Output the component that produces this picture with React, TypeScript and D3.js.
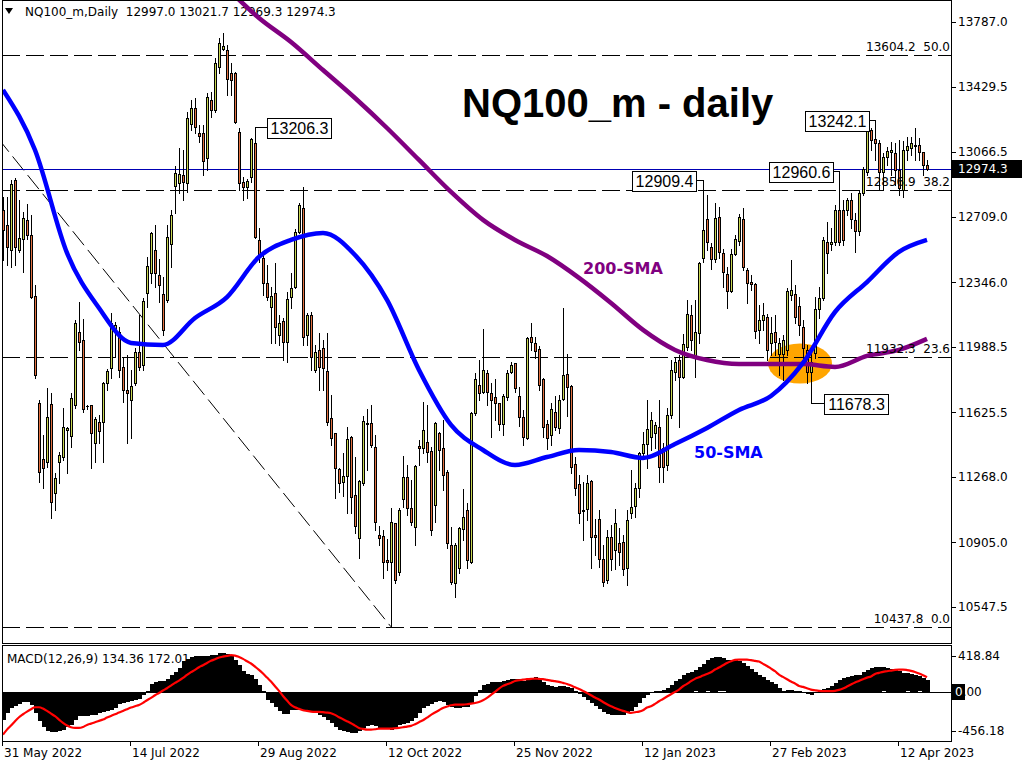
import React from "react";
import * as d3 from "d3";

// NQ100_m daily candles, 31 May 2022 .. 21 Apr 2023
const dateLabels = ["31 May 2022", "14 Jul 2022", "29 Aug 2022", "12 Oct 2022", "25 Nov 2022", "12 Jan 2023", "27 Feb 2023", "12 Apr 2023"];
const dateBars = [0, 32, 64, 96, 128, 160, 192, 224];

const opens = [
  12746, 12663, 12525, 12912, 12525, 12586, 12691, 12608, 12270, 11677,
  11367, 11351, 11672, 11179, 11351, 11378, 11528, 11495, 11666, 12071,
  12026, 11663, 11666, 11456, 11572, 11572, 11788, 11871, 12082, 12071,
  11877, 11749, 11694, 11788, 11960, 11888, 12287, 12397, 12525, 12386,
  12281, 12248, 12558, 12879, 12896, 12940, 12896, 13222, 13311, 13172,
  13172, 13034, 13355, 13300, 13538, 13638, 13632, 13505, 13505, 13178,
  12901, 12874, 12929, 13117, 12580, 12480, 12342, 12209, 12287, 12054,
  12131, 12015, 12264, 12320, 12624, 12757, 12054, 12165, 11860, 11971,
  11982, 11855, 11594, 11511, 11312, 11240, 11273, 11489, 11168, 10930,
  11234, 11561, 11567, 11434, 10946, 10941, 10808, 10797, 11013, 10742,
  11146, 11268, 11096, 10991, 11439, 11428, 11461, 11412, 11113, 11511,
  11428, 11295, 10891, 10681, 10764, 10980, 11085, 10797, 11622, 11777,
  11738, 11843, 11733, 11711, 11677, 11561, 11711, 11849, 11899, 11716,
  11600, 11484, 12043, 12010, 11976, 11810, 11561, 11500, 11627, 11539,
  11700, 11838, 11771, 11340, 11229, 11085, 11090, 11246, 10946, 11035,
  10813, 10697, 10935, 10863, 10902, 10908, 10764, 11068, 11107, 11207,
  11400, 11450, 11489, 11511, 11544, 11428, 11334, 11611, 11849, 11915,
  11821, 11987, 12165, 11932, 12065, 12480, 12696, 12541, 12475, 12707,
  12508, 12392, 12297, 12502, 12574, 12696, 12414, 12347, 12336, 12082,
  12137, 12154, 12010, 12071, 11949, 11949, 11971, 12275, 12281, 12214,
  12098, 11971, 11849, 11954, 12198, 12259, 12569, 12558, 12569, 12746,
  12746, 12746, 12801, 12691, 12630, 12840, 12957, 13189, 13139, 13117,
  12957, 13040, 13067, 13062, 12968, 12857, 13078, 13089, 13100, 13106,
  13067, 12997.0,
];
const highs = [
  12818, 12818, 12912, 12923, 12801, 12735, 12779, 12718, 12331, 11694,
  11500, 11760, 11733, 11290, 11406, 11650, 11544, 11733, 12137, 12237,
  12143, 11666, 11666, 11600, 11611, 11794, 11866, 12176, 12126, 12098,
  11932, 11943, 11860, 11982, 12165, 12259, 12486, 12624, 12663, 12475,
  12375, 12663, 12746, 12990, 13089, 13078, 13289, 13355, 13366, 13217,
  13217, 13394, 13399, 13588, 13699, 13726, 13660, 13560, 13510, 13200,
  12929, 12918, 13145, 13206.3, 12646, 12497, 12442, 12320, 12453, 12165,
  12148, 12292, 12397, 12641, 12785, 12874, 12176, 12181, 11999, 12065,
  12026, 12065, 11722, 11511, 11317, 11400, 11544, 11495, 11378, 11251,
  11605, 11644, 11666, 11500, 10996, 10975, 10924, 11096, 11013, 11096,
  11384, 11334, 11251, 11334, 11472, 11683, 11666, 11434, 11572, 11517,
  11583, 11306, 10991, 10902, 10991, 11201, 11124, 11627, 11843, 11915,
  12087, 11860, 11788, 11810, 11677, 11727, 11860, 11904, 11899, 11766,
  11639, 12043, 12120, 12043, 11993, 11816, 11583, 11677, 11716, 11722,
  12203, 11949, 11777, 11378, 11279, 11240, 11279, 11251, 11035, 11085,
  10891, 10975, 11002, 11090, 10985, 10946, 11085, 11306, 11234, 11406,
  11517, 11694, 11627, 11572, 11694, 11456, 11650, 11915, 11927, 11943,
  12059, 12248, 12220, 12248, 12458, 12909.4, 12829, 12563, 12785, 12763,
  12530, 12430, 12530, 12608, 12724, 12757, 12425, 12386, 12342, 12220,
  12231, 12170, 12154, 12165, 12037, 12054, 12314, 12469, 12331, 12264,
  12137, 11999, 11971, 12264, 12320, 12597, 12680, 12646, 12774, 12960.6,
  12801, 12813, 12840, 12729, 12857, 12984, 13200, 13200, 13242.1, 13134,
  13062, 13095, 13123, 13117, 13134, 13128, 13150, 13150, 13200, 13145,
  13067, 13021.7,
];
const lows = [
  12469, 12442, 12430, 12442, 12514, 12403, 12586, 12259, 11816, 11240,
  11207, 11323, 11041, 11085, 11234, 11362, 11290, 11434, 11650, 11971,
  11627, 11644, 11317, 11351, 11456, 11351, 11749, 11816, 11932, 11821,
  11683, 11456, 11484, 11777, 11860, 11860, 12209, 12342, 12320, 12237,
  12054, 12237, 12430, 12729, 12840, 12801, 12846, 13189, 13172, 13123,
  12940, 12968, 13261, 13289, 13505, 13632, 13383, 13383, 13228, 12857,
  12801, 12813, 12901, 12591, 12458, 12275, 12248, 12010, 12010, 11999,
  11915, 11904, 12203, 12314, 12619, 11999, 11999, 11860, 11849, 11749,
  11749, 11556, 11445, 11151, 11185, 11162, 11068, 11068, 10958, 10819,
  11223, 11306, 11434, 10975, 10891, 10708, 10752, 10437.8, 10681, 10725,
  11101, 11057, 11002, 10891, 11334, 11400, 11351, 10946, 11018, 11306,
  11196, 10874, 10675, 10603, 10736, 10919, 10764, 10791, 11611, 11694,
  11733, 11666, 11489, 11583, 11528, 11500, 11694, 11843, 11738, 11550,
  11445, 11478, 11971, 11927, 11749, 11489, 11423, 11445, 11528, 11511,
  11694, 11605, 11290, 11168, 11013, 10919, 11029, 10764, 10835, 10769,
  10664, 10681, 10752, 10758, 10780, 10725, 10670, 11041, 11046, 11157,
  11389, 11317, 11417, 11428, 11240, 11240, 11306, 11594, 11805, 11544,
  11816, 11971, 11971, 11821, 12010, 12458, 12525, 12419, 12458, 12480,
  12320, 12203, 12292, 12497, 12552, 12414, 12231, 12303, 12037, 12010,
  12082, 11915, 11943, 11943, 11832, 11805, 11943, 12248, 12120, 12054,
  11915, 11788, 11678.3, 11927, 12148, 12248, 12397, 12525, 12552, 12552,
  12552, 12718, 12646, 12514, 12608, 12829, 12940, 13078, 13023, 12857,
  12857, 12995, 12940, 12885, 12829, 12818, 13023, 13051, 13023, 13023,
  12940, 12969.3,
];
const closes = [
  12635, 12541, 12890, 12541, 12591, 12702, 12608, 12264, 11832, 11295,
  11317, 11600, 11129, 11262, 11389, 11544, 11539, 11705, 12120, 12015,
  11644, 11660, 11511, 11589, 11522, 11788, 11855, 12120, 12109, 11860,
  11749, 11733, 11771, 11960, 11877, 12242, 12436, 12619, 12397, 12331,
  12082, 12597, 12718, 12951, 12945, 12901, 13256, 13311, 13206, 13156,
  13017, 13372, 13300, 13560, 13671, 13654, 13472, 13466, 13233, 12896,
  12874, 12907, 13139, 12597, 12497, 12342, 12264, 12270, 12098, 12120,
  12015, 12253, 12314, 12624, 12774, 12043, 12165, 11932, 11960, 11877,
  11871, 11572, 11484, 11317, 11234, 11273, 11478, 11157, 10996, 11246,
  11578, 11567, 11445, 11018, 10930, 10797, 10797, 11018, 10697, 11085,
  11268, 11096, 11018, 11329, 11428, 11528, 11406, 10975, 11567, 11417,
  11279, 10902, 10686, 10891, 10985, 11046, 10808, 11622, 11810, 11733,
  11860, 11738, 11694, 11677, 11561, 11716, 11843, 11888, 11760, 11600,
  11489, 12037, 12015, 11965, 11777, 11544, 11484, 11644, 11544, 11694,
  11832, 11766, 11323, 11207, 11068, 11079, 11234, 10935, 10935, 10813,
  10686, 10935, 10813, 11013, 10852, 10758, 11029, 11101, 11207, 11400,
  11450, 11533, 11583, 11556, 11323, 11323, 11611, 11860, 11904, 11821,
  12004, 12170, 12026, 12071, 12453, 12635, 12569, 12475, 12702, 12514,
  12403, 12297, 12502, 12586, 12707, 12430, 12342, 12336, 12076, 12137,
  12165, 11971, 12065, 12015, 12010, 12026, 12297, 12303, 12154, 12109,
  11982, 11849, 11904, 12198, 12259, 12580, 12508, 12569, 12746, 12569,
  12580, 12801, 12696, 12630, 12840, 12973, 13189, 13134, 13117, 12957,
  13040, 13073, 13078, 12968, 12868, 13078, 13100, 13117, 13106, 13067,
  12995, 12974.3,
];

// MACD(12,26,9): main (histogram) and signal
const macdMain = [
  -323, -245, -187, -167, -140, -121, -121, -148, -245, -342,
  -412, -451, -467, -467, -459, -440, -412, -381, -323, -284,
  -284, -280, -272, -265, -249, -237, -226, -206, -187, -140,
  -128, -117, -109, -93, -78, -39, 8, 93, 117, 132,
  124, 156, 195, 233, 280, 358, 389, 405, 416, 416,
  416, 420, 428, 436, 455, 455, 443, 416, 377, 311,
  249, 210, 195, 156, 86, 8, -89, -128, -179, -226,
  -253, -257, -210, -206, -214, -226, -226, -233, -249, -265,
  -296, -323, -362, -412, -440, -451, -467, -478, -482, -459,
  -420, -401, -381, -401, -420, -428, -428, -440, -428, -389,
  -373, -362, -342, -303, -245, -187, -167, -140, -117, -109,
  -117, -148, -179, -187, -187, -179, -179, -140, -51, 27,
  78, 94, 113, 117, 121, 125, 140, 156, 156, 152,
  133, 148, 164, 172, 156, 117, 86, 66, 55, 66,
  70, 62, 47, 8, -23, -62, -90, -129, -168, -199,
  -234, -257, -269, -273, -273, -269, -246, -218, -179, -129,
  -70, -31, 0, 16, 16, 27, 47, 86, 125, 156,
  195, 218, 234, 250, 289, 328, 367, 398, 406, 402,
  390, 378, 378, 371, 359, 335, 300, 265, 230, 203,
  172, 140, 117, 94, 47, 16, 23, 27, 16, 8,
  -4, -20, -31, 0, 16, 31, 47, 74, 105, 144,
  164, 179, 191, 199, 203, 230, 261, 281, 289, 289,
  285, 277, 273, 265, 240, 225, 215, 205, 195, 180,
  160, 134.36,
];
const macdSignal = [
  -498, -440, -393, -342, -296, -261, -230, -202, -179, -179,
  -194, -222, -253, -284, -323, -362, -393, -412, -420, -420,
  -409, -385, -370, -354, -338, -323, -300, -280, -261, -241,
  -222, -202, -183, -167, -152, -128, -97, -70, -39, -12,
  16, 43, 74, 105, 132, 163, 198, 230, 257, 288,
  311, 338, 362, 381, 401, 412, 420, 428, 424, 408,
  385, 358, 331, 296, 257, 214, 167, 121, 66, 12,
  -47, -101, -152, -179, -198, -214, -222, -230, -233, -233,
  -237, -241, -249, -268, -296, -319, -342, -366, -393, -420,
  -432, -440, -440, -436, -428, -428, -428, -428, -424, -420,
  -412, -405, -397, -377, -354, -331, -300, -268, -241, -214,
  -187, -171, -156, -148, -148, -148, -144, -136, -129, -117,
  -97, -70, -35, 0, 39, 70, 89, 105, 128, 136,
  144, 148, 152, 156, 152, 148, 140, 132, 125, 117,
  105, 93, 74, 54, 35, 12, -12, -39, -66, -89,
  -117, -144, -167, -187, -206, -222, -234, -245, -237, -230,
  -214, -183, -167, -140, -109, -82, -54, -27, 0, 27,
  66, 93, 125, 152, 171, 191, 210, 230, 261, 284,
  311, 338, 358, 373, 377, 377, 377, 370, 362, 354,
  327, 303, 272, 241, 202, 175, 148, 121, 97, 70,
  58, 43, 27, 19, 12, 8, 8, 8, 12, 23,
  39, 62, 86, 109, 128, 148, 167, 179, 210, 222,
  234, 241, 249, 257, 261, 261, 255, 245, 232, 215,
  195, 172.01,
];

// moving averages read every 8th bar (last point on the final bar)
const sma50 = [
  13411, 13078, 12508, 12203, 12010, 11999, 12148, 12264, 12486, 12580,
  12619, 12497, 12248, 11860, 11556, 11417, 11334, 11378, 11417, 11406,
  11373, 11450, 11539, 11639, 11716, 11899, 12181, 12347, 12514, 12580,
];
const sma200 = [
  13975, 13809, 13676, 13521, 13366, 13200, 13023, 12846, 12691, 12580,
  12491, 12370, 12231, 12082, 11971, 11915, 11893, 11893, 11893, 11877,
  11938, 11971, 12032,
];

const priceTicks = [13787.0, 13429.5, 13066.5, 12709.0, 12346.0, 11988.5, 11625.5, 11268.0, 10905.0, 10547.5];
const fibLevels = [13604.2, 12856.9, 11932.3, 10437.8];
const fibNames = ["50.0", "38.2", "23.6", "0.0"];
const fibTop = 16770.6;
const fibTopBar = -133;
const fibLowBar = 97;
const lastPrice = 12974.3;
const macdTicks = [418.84, 0, -456.18];

const bull = "#C9D651";
const bear = "#E2703F";
const mono = "DejaVu Sans, Tahoma, sans-serif";

export default function App() {
  const plotL = 2;
  const plotR = 951;
  const mainB = 643;
  const macdT = 645;
  const macdB = 741;

  const bars = d3.range(closes.length);
  const x = d3.scaleLinear().domain([0, 231]).range([3, 927]);
  const y = d3.scaleLinear().domain([10547.5, 13787]).range([607, 22]);
  const ym = d3.scaleLinear().domain([-456.18, 418.84]).range([731, 656]);
  const px = (i: number) => Math.round(x(i));
  const py = (v: number) => Math.round(y(v));

  const sma50Bars = d3.range(0, 232, 8).concat([231]);
  const sma200Bars = d3.range(56, 232, 8).concat([231]);

  const smaLine = d3
    .line<[number, number]>()
    .x((d) => x(d[0]))
    .y((d) => y(d[1]))
    .curve(d3.curveMonotoneX);
  const sigLine = d3
    .line<number>()
    .x((d, i) => x(i))
    .y((d) => ym(d))
    .curve(d3.curveMonotoneX);

  const zeroY = Math.round(ym(0)) + 0.5;

  // boxed price callouts: bar, value, box side
  const callouts = [
    { bar: 63, v: highs[63], side: "right", gap: 11 },
    { bar: 175, v: highs[175], side: "left", gap: 8 },
    { bar: 209, v: highs[209], side: "left", gap: 7 },
    { bar: 218, v: highs[218], side: "left", gap: 7 },
    { bar: 202, v: lows[202], side: "right", gap: 12 },
  ];

  return (
    <div style={{ position: "absolute", left: 0, top: 0, background: "#fff" }}>
      <svg width={1024} height={768} style={{ display: "block", background: "#fff" }}>
        <defs>
          <clipPath id="mainClip">
            <rect x={plotL} y={1} width={plotR - plotL} height={mainB - 1} />
          </clipPath>
          <clipPath id="macdClip">
            <rect x={plotL} y={macdT + 1} width={plotR - plotL} height={macdB - macdT - 1} />
          </clipPath>
        </defs>

        <g clipPath="url(#mainClip)">
          {/* highlight of the crossover */}
          <ellipse cx={800} cy={363.5} rx={32} ry={20} fill="#FFA500" />

          {/* fibonacci levels */}
          {fibLevels.map((f) => (
            <line key={f} x1={plotL} x2={plotR} y1={py(f) + 0.5} y2={py(f) + 0.5}
              stroke="#000" strokeDasharray="18,6" shapeRendering="crispEdges" />
          ))}
          <line x1={x(fibTopBar)} y1={y(fibTop)} x2={x(fibLowBar)} y2={y(fibLevels[3])}
            stroke="#000" strokeWidth={1} strokeDasharray="18,6" />

          {/* last price */}
          <line x1={plotL} x2={plotR} y1={py(lastPrice) + 0.5} y2={py(lastPrice) + 0.5}
            stroke="#0000B4" shapeRendering="crispEdges" />

          {/* header */}
          <path d="M5,8 L13,8 L9,14 Z" fill="#000" />
          <text x={25} y={16} fontFamily={mono} fontSize={12} fill="#000" style={{ whiteSpace: "pre" }}>
            {`NQ100_m,Daily  ${opens[231].toFixed(1)} ${highs[231].toFixed(1)} ${lows[231].toFixed(1)} ${closes[231].toFixed(1)}`}
          </text>

          {/* candles */}
          <g shapeRendering="crispEdges">
            {bars.map((i) => {
              const cx = px(i);
              const o = py(opens[i]);
              const c = py(closes[i]);
              const top = Math.min(o, c);
              const bot = Math.max(o, c);
              const up = closes[i] >= opens[i];
              return (
                <g key={i}>
                  <line x1={cx + 0.5} x2={cx + 0.5} y1={py(highs[i])} y2={py(lows[i]) + 1} stroke="#000" />
                  {bot - top >= 1 ? (
                    <rect x={cx - 0.5} y={top + 0.5} width={2} height={bot - top}
                      fill={up ? bull : bear} stroke="#000" />
                  ) : (
                    <line x1={cx - 1} x2={cx + 2} y1={top + 0.5} y2={top + 0.5} stroke="#000" />
                  )}
                </g>
              );
            })}
          </g>

          {/* moving averages */}
          <path d={smaLine(sma200Bars.map((b, k) => [b, sma200[k]]) as [number, number][]) || ""}
            fill="none" stroke="#800080" strokeWidth={4.5} />
          <path d={smaLine(sma50Bars.map((b, k) => [b, sma50[k]]) as [number, number][]) || ""}
            fill="none" stroke="#0000FF" strokeWidth={4.5} />

          {/* fib labels */}
          {fibLevels.map((f, k) => (
            <text key={f} x={950} y={py(f) - 4} textAnchor="end" fontFamily={mono} fontSize={12}
              fill="#000" style={{ whiteSpace: "pre" }}>
              {`${f.toFixed(1)}  ${fibNames[k]}`}
            </text>
          ))}

          {/* callouts */}
          {callouts.map((c) => {
            const cx = px(c.bar) + 0.5;
            const cy = py(c.v) + 0.5;
            const w = 64;
            const h = 20;
            const bx = c.side === "right" ? cx + c.gap : cx - c.gap - w;
            return (
              <g key={c.bar}>
                <line x1={cx} x2={c.side === "right" ? bx : bx + w} y1={cy} y2={cy} stroke="#000" shapeRendering="crispEdges" />
                <rect x={Math.round(bx) + 0.5} y={Math.round(cy - h / 2)} width={w} height={h}
                  fill="#fff" stroke="#000" shapeRendering="crispEdges" />
                <text x={Math.round(bx) + w / 2 + 0.5} y={cy + 6} textAnchor="middle"
                  fontFamily="Liberation Sans, Arial, sans-serif" fontSize={16} fill="#000">
                  {c.v.toFixed(1)}
                </text>
              </g>
            );
          })}

          {/* titles */}
          <text x={462} y={117} fontFamily="Liberation Sans, Arial, sans-serif" fontWeight="bold"
            fontSize={40} fill="#000">NQ100_m - daily</text>
          <text x={583} y={274} fontFamily="DejaVu Sans, Verdana, sans-serif" fontWeight="bold"
            fontSize={16} fill="#800080">200-SMA</text>
          <text x={694} y={458} fontFamily="DejaVu Sans, Verdana, sans-serif" fontWeight="bold"
            fontSize={16} fill="#0000FF">50-SMA</text>
        </g>

        {/* MACD panel */}
        <text x={7} y={663} fontFamily={mono} fontSize={12} fill="#000">
          {`MACD(12,26,9) ${macdMain[231].toFixed(2)} ${macdSignal[231].toFixed(2)}`}
        </text>
        <g clipPath="url(#macdClip)">
          <g shapeRendering="crispEdges">
            {bars.map((i) => {
              const y0 = ym(0);
              const y1 = ym(macdMain[i]);
              return (
                <rect key={i} x={px(i) - 1.5} width={4} y={Math.round(Math.min(y0, y1))}
                  height={Math.max(1, Math.round(Math.abs(y1 - y0)))} fill="#000" />
              );
            })}
          </g>
          <line x1={plotL} x2={plotR} y1={zeroY} y2={zeroY} stroke="#000" shapeRendering="crispEdges" />
          <path d={sigLine(macdSignal) || ""} fill="none" stroke="#FF0000" strokeWidth={2.2} />
        </g>

        {/* frames */}
        <g fill="none" stroke="#000" shapeRendering="crispEdges">
          <rect x={plotL + 0.5} y={0.5} width={plotR - plotL} height={mainB} />
          <rect x={plotL + 0.5} y={macdT + 0.5} width={plotR - plotL} height={macdB - macdT} />
        </g>

        {/* price axis */}
        {priceTicks.map((t) => (
          <g key={t}>
            <line x1={plotR + 1} x2={plotR + 5} y1={py(t) + 0.5} y2={py(t) + 0.5} stroke="#000" shapeRendering="crispEdges" />
            <text x={958} y={y(t)} dy="0.36em" fontFamily={mono} fontSize={12} fill="#000">{t.toFixed(1)}</text>
          </g>
        ))}
        <rect x={952} y={Math.round(y(lastPrice)) - 9} width={70} height={18} fill="#000" />
        <text x={958} y={y(lastPrice)} dy="0.36em" fontFamily={mono} fontSize={12} fill="#fff">
          {lastPrice.toFixed(1)}
        </text>

        {/* MACD axis */}
        {macdTicks.map((t) => (
          <g key={t}>
            <line x1={plotR + 1} x2={plotR + 5} y1={Math.round(ym(t)) + 0.5} y2={Math.round(ym(t)) + 0.5}
              stroke="#000" shapeRendering="crispEdges" />
            {t === 0 ? (
              <g>
                <rect x={952} y={Math.round(ym(0)) - 8} width={13} height={16} fill="#000" />
                <text x={955} y={ym(0)} dy="0.36em" fontFamily={mono} fontSize={12}>
                  <tspan fill="#fff">0</tspan>
                  <tspan fill="#000">.00</tspan>
                </text>
              </g>
            ) : (
              <text x={958} y={ym(t)} dy="0.36em" fontFamily={mono} fontSize={12} fill="#000">{t.toFixed(2)}</text>
            )}
          </g>
        ))}

        {/* date axis */}
        {dateBars.map((b, k) => (
          <g key={b}>
            <line x1={px(b) - 0.5} x2={px(b) - 0.5} y1={macdB} y2={macdB + 5} stroke="#000" shapeRendering="crispEdges" />
            <text x={px(b) + 1} y={757} fontFamily={mono} fontSize={12} fill="#000">{dateLabels[k]}</text>
          </g>
        ))}
      </svg>
    </div>
  );
}
